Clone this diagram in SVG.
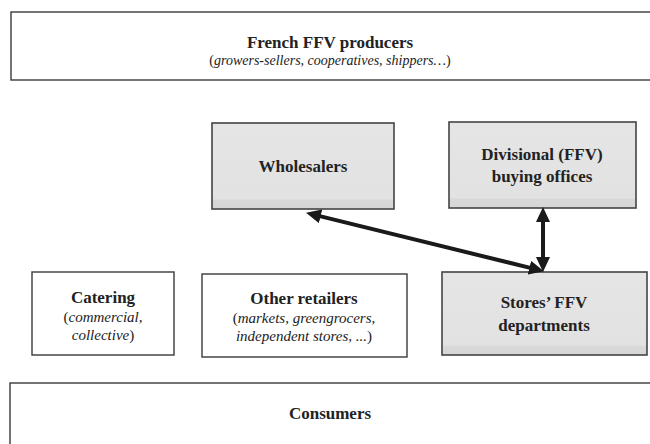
<svg xmlns="http://www.w3.org/2000/svg" width="650" height="444" viewBox="0 0 650 444">
<defs>
<linearGradient id="g" x1="0" y1="0" x2="0" y2="1">
<stop offset="0" stop-color="#e5e5e5"/>
<stop offset="0.88" stop-color="#e2e2e2"/>
<stop offset="0.9" stop-color="#d8d8d8"/>
<stop offset="1" stop-color="#d6d6d6"/>
</linearGradient>
<marker id="ah" markerUnits="userSpaceOnUse" markerWidth="16" markerHeight="14" refX="4" refY="7" orient="auto-start-reverse" viewBox="0 0 16 14">
<path d="M0,0 L15,7 L0,14 z" fill="#1a1a1a"/>
</marker>
<style>
.w{fill:#fff;stroke:#3a3a3a;stroke-width:1.4}
.gr{fill:url(#g);stroke:#444;stroke-width:1.6}
.t{font-family:"Liberation Serif","Times New Roman",serif;font-weight:bold;font-size:17px;fill:#222;text-anchor:middle}
.s{font-family:"Liberation Serif","Times New Roman",serif;font-size:15px;fill:#222;text-anchor:middle}
.s14{font-size:14px}
.i{font-style:italic}
.c{stroke:#1a1a1a;stroke-width:4;fill:none;marker-start:url(#ah);marker-end:url(#ah)}
</style>
</defs>
<g id="producers">
<rect class="w" x="11" y="12" width="660" height="68"/>
<text class="t" x="330" y="48">French FFV producers</text>
<text class="s s14" x="330" y="65">(<tspan class="i">growers-sellers, cooperatives, shippers…</tspan>)</text>
</g>
<g id="wholesalers">
<rect class="gr" x="212" y="123" width="182" height="86"/>
<text class="t" x="303" y="172">Wholesalers</text>
</g>
<g id="buying-offices">
<rect class="gr" x="449" y="122" width="187" height="86"/>
<text class="t" x="542" y="160">Divisional (FFV)</text>
<text class="t" x="542" y="182">buying offices</text>
</g>
<g id="catering">
<rect class="w" x="32" y="272" width="142" height="83"/>
<text class="t" x="103" y="303">Catering</text>
<text class="s" x="103" y="322">(<tspan class="i">commercial,</tspan></text>
<text class="s" x="103" y="340"><tspan class="i">collective</tspan>)</text>
</g>
<g id="other-retailers">
<rect class="w" x="202" y="274" width="205" height="83"/>
<text class="t" x="304" y="304">Other retailers</text>
<text class="s" x="304" y="323">(<tspan class="i">markets, greengrocers,</tspan></text>
<text class="s" x="304" y="341"><tspan class="i">independent stores, ...</tspan>)</text>
</g>
<g id="stores">
<rect class="gr" x="442" y="272" width="205" height="83"/>
<text class="t" x="544" y="308">Stores’ FFV</text>
<text class="t" x="544" y="331">departments</text>
</g>
<g id="consumers">
<rect class="w" x="10" y="383" width="660" height="80"/>
<text class="t" x="330" y="419">Consumers</text>
</g>
<g id="connectors">
<line class="c" x1="316.7" y1="215.4" x2="533.3" y2="268.6"/>
<line class="c" x1="543" y1="218" x2="543" y2="261"/>
</g>
</svg>
